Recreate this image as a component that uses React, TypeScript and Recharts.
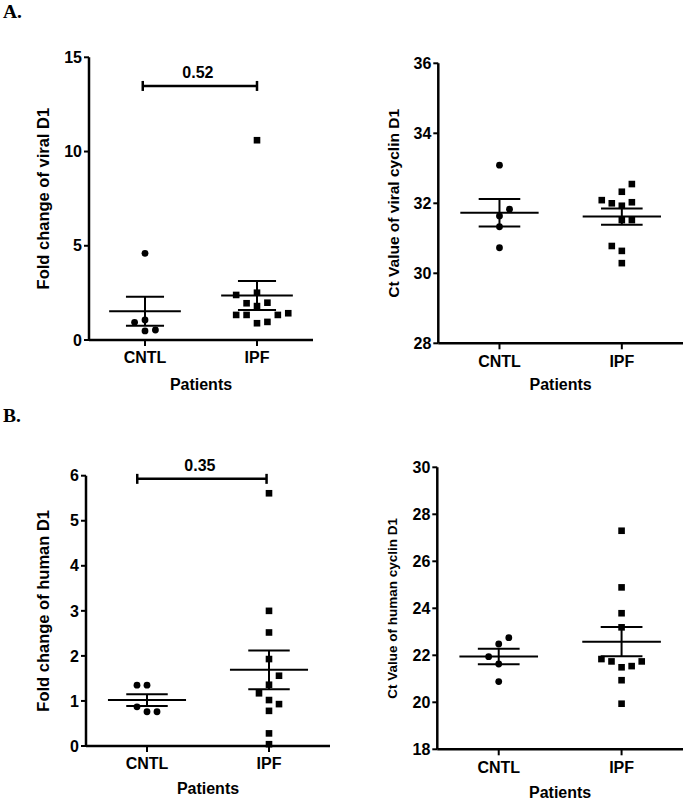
import React from 'react'
import { ScatterChart, Scatter, XAxis, YAxis, ReferenceLine } from 'recharts'

const groups = ['CNTL', 'IPF']

// A. fold change of viral D1
const viralFoldCntl = [4.6, 0.94, 1.06, 0.48, 0.53]
const viralFoldCntlCol = [0, -1, 0, 0, 1]
const viralFoldIpf = [10.6, 2.39, 2.51, 1.95, 1.8, 1.98, 1.33, 1.33, 1.33, 1.42, 0.89, 0.96]
const viralFoldIpfCol = [0, -2, 0, -1, 0, 1, -2, -1, 2, 3, 0, 1]
const viralFoldMean = [1.52, 2.36]
const viralFoldSem = [0.77, 0.77]
const viralFoldTicks = [0, 5, 10, 15]

// A. Ct value of viral cyclin D1
const viralCtCntl = [33.09, 31.83, 31.64, 31.33, 30.73]
const viralCtCntlCol = [0, 1, 0, 0, 0]
const viralCtIpf = [32.55, 32.33, 32.09, 32.0, 31.93, 32.03, 31.52, 31.52, 30.78, 30.64, 30.29]
const viralCtIpfCol = [1, 0, -2, -1, 0, 1, 0, 1, -1, 0, 0]
const viralCtMean = [31.73, 31.62]
const viralCtSem = [0.39, 0.23]
const viralCtTicks = [28, 30, 32, 34, 36]

// B. fold change of human D1
const humanFoldCntl = [1.35, 1.35, 0.87, 0.76, 0.76]
const humanFoldCntlCol = [-1, 0, -1, 0, 1]
const humanFoldIpf = [5.61, 3.0, 2.52, 1.93, 1.56, 1.36, 1.17, 1.02, 0.93, 0.78, 0.28, 0.04]
const humanFoldIpfCol = [0, 0, 0, 0, 1, 0, -1, 0, 1, 0, 0, 0]
const humanFoldMean = [1.02, 1.69]
const humanFoldSem = [0.13, 0.43]
const humanFoldTicks = [0, 1, 2, 3, 4, 5, 6]

// B. Ct value of human cyclin D1
const humanCtCntl = [22.75, 22.48, 21.94, 21.63, 20.88]
const humanCtCntlCol = [1, 0, -1, 0, 0]
const humanCtIpf = [27.3, 24.89, 23.79, 23.19, 21.84, 21.74, 21.74, 21.54, 21.49, 20.94, 19.94]
const humanCtIpfCol = [0, 0, 0, 0, -2, -1, 2, 1, 0, 0, 0]
const humanCtMean = [21.95, 22.58]
const humanCtSem = [0.33, 0.62]
const humanCtTicks = [18, 20, 22, 24, 26, 28, 30]

const FONT = 'Liberation Sans, Arial, Helvetica, sans-serif'
const MEAN_HALF = 0.32
const CAP_HALF = 0.17

const boldText = { fontSize: 16, fontWeight: 'bold', fontFamily: FONT }
const axisLine = { stroke: '#000', strokeWidth: 2.5 }
const tickLine = { stroke: '#000', strokeWidth: 2 }

const panels = [
  {
    left: 0, top: 0, width: 328, height: 395,
    margin: { top: 57.3, left: 43, right: 15, bottom: 25 }, yWidth: 46,
    yLabel: 'Fold change of viral D1', yLabelSize: 16.5, xLabelOffset: 8.5,
    domain: [0, 15], ticks: viralFoldTicks, step: 0.093,
    cntl: viralFoldCntl, cntlCol: viralFoldCntlCol, ipf: viralFoldIpf, ipfCol: viralFoldIpfCol,
    mean: viralFoldMean, sem: viralFoldSem,
    bracket: { from: 0.98, to: 2.0, y: 13.48, text: '0.52' },
  },
  {
    left: 340, top: 0, width: 345, height: 400,
    margin: { top: 63.3, left: 53.3, right: 2, bottom: 26.7 }, yWidth: 45,
    yLabel: 'Ct Value of viral cyclin D1', yLabelSize: 15.5, xLabelOffset: 5.2,
    domain: [28, 36], ticks: viralCtTicks, step: 0.082,
    cntl: viralCtCntl, cntlCol: viralCtCntlCol, ipf: viralCtIpf, ipfCol: viralCtIpfCol,
    mean: viralCtMean, sem: viralCtSem,
  },
  {
    left: 0, top: 400, width: 340, height: 400,
    margin: { top: 75.7, left: 43, right: 10, bottom: 24 }, yWidth: 43,
    yLabel: 'Fold change of human D1', yLabelSize: 16.5, xLabelOffset: 6.3,
    domain: [0, 6], ticks: humanFoldTicks, step: 0.082,
    cntl: humanFoldCntl, cntlCol: humanFoldCntlCol, ipf: humanFoldIpf, ipfCol: humanFoldIpfCol,
    mean: humanFoldMean, sem: humanFoldSem,
    bracket: { from: 0.92, to: 1.98, y: 5.93, text: '0.35' },
  },
  {
    left: 340, top: 400, width: 345, height: 400,
    margin: { top: 67.3, left: 52.5, right: 2, bottom: 20.7 }, yWidth: 44.8,
    yLabel: 'Ct Value of human cyclin D1', yLabelSize: 13.5, xLabelOffset: 7,
    domain: [18, 30], ticks: humanCtTicks, step: 0.082,
    cntl: humanCtCntl, cntlCol: humanCtCntlCol, ipf: humanCtIpf, ipfCol: humanCtIpfCol,
    mean: humanCtMean, sem: humanCtSem,
  },
]

const circle = (props: any) => <circle cx={props.cx} cy={props.cy} r={3.4} fill="#000" />
const square = (props: any) => (
  <rect x={props.cx - 3.3} y={props.cy - 3.3} width={6.6} height={6.6} fill="#000" />
)

const xTick = (props: any) => (
  <text x={props.x} y={props.y} dy="0.71em" textAnchor="middle" fill="#000" style={boldText}>
    {groups[Math.round(props.payload.value) - 1]}
  </text>
)

const yTick = (props: any) => (
  <text x={props.x} y={props.y} dy="0.355em" textAnchor="end" fill="#000" style={boldText}>
    {props.payload.value}
  </text>
)

const makeBracket = (text: string) => (props: any) => {
  const { x1, y1, x2, y2 } = props
  return (
    <g>
      <line x1={x1} y1={y1} x2={x2} y2={y2} stroke="#000" strokeWidth={2.5} />
      <line x1={x1} y1={y1 - 5} x2={x1} y2={y1 + 5} stroke="#000" strokeWidth={2.5} />
      <line x1={x2} y1={y2 - 5} x2={x2} y2={y2 + 5} stroke="#000" strokeWidth={2.5} />
      <text x={(x1 + x2) / 2 - 2} y={y1 - 7.5} textAnchor="middle" fill="#000" style={boldText}>
        {text}
      </text>
    </g>
  )
}

const makeYLabel = (text: string, size: number) => (props: any) => {
  const vb = props.viewBox
  const cx = vb.x
  const cy = vb.y + vb.height / 2
  return (
    <text x={cx} y={cy} dy="0.355em" transform={`rotate(-90, ${cx}, ${cy})`} textAnchor="middle"
      fill="#000" style={{ ...boldText, fontSize: size }}>
      {text}
    </text>
  )
}

const makeXLabel = (off: number) => (props: any) => {
  const vb = props.viewBox
  return (
    <text x={vb.x + vb.width / 2} y={vb.y + vb.height + off} dy="0.71em" textAnchor="middle"
      fill="#000" style={boldText}>
      Patients
    </text>
  )
}

function Panel({ p }: { p: any }) {
  const cntl = p.cntl.map((y: number, i: number) => ({ x: 1 + p.cntlCol[i] * p.step, y }))
  const ipf = p.ipf.map((y: number, i: number) => ({ x: 2 + p.ipfCol[i] * p.step, y }))
  const seg = { stroke: '#000', strokeWidth: 2 }
  return (
    <div style={{ position: 'absolute', left: p.left, top: p.top }}>
      <ScatterChart width={p.width} height={p.height} margin={p.margin}>
        <XAxis
          type="number"
          dataKey="x"
          domain={[0.5, 2.5]}
          ticks={[1, 2]}
          height={30}
          stroke="#000"
          axisLine={axisLine}
          tickLine={tickLine}
          tickSize={6}
          tickMargin={6}
          tick={xTick}
          interval={0}
          label={makeXLabel(p.xLabelOffset)}
        />
        <YAxis
          type="number"
          dataKey="y"
          domain={p.domain}
          ticks={p.ticks}
          width={p.yWidth}
          stroke="#000"
          axisLine={axisLine}
          tickLine={tickLine}
          tickSize={5}
          tickMargin={2}
          tick={yTick}
          interval={0}
          label={makeYLabel(p.yLabel, p.yLabelSize)}
        />
        {groups.map((g, i) => {
          const c = i + 1
          const m = p.mean[i]
          const s = p.sem[i]
          return [
            <ReferenceLine key={g + 'm'} segment={[{ x: c - MEAN_HALF, y: m }, { x: c + MEAN_HALF, y: m }]} {...seg} />,
            <ReferenceLine key={g + 'u'} segment={[{ x: c - CAP_HALF, y: m + s }, { x: c + CAP_HALF, y: m + s }]} {...seg} />,
            <ReferenceLine key={g + 'l'} segment={[{ x: c - CAP_HALF, y: m - s }, { x: c + CAP_HALF, y: m - s }]} {...seg} />,
            <ReferenceLine key={g + 'v'} segment={[{ x: c, y: m - s }, { x: c, y: m + s }]} {...seg} />,
          ]
        })}
        {p.bracket && (
          <ReferenceLine
            segment={[{ x: p.bracket.from, y: p.bracket.y }, { x: p.bracket.to, y: p.bracket.y }]}
            shape={makeBracket(p.bracket.text)}
          />
        )}
        <Scatter data={cntl} shape={circle} isAnimationActive={false} />
        <Scatter data={ipf} shape={square} isAnimationActive={false} />
      </ScatterChart>
    </div>
  )
}

export default function App() {
  return (
    <div style={{ position: 'absolute', left: 0, top: 0, width: 685, height: 800, background: '#fff' }}>
      {panels.map((p, i) => (
        <Panel key={i} p={p} />
      ))}
      <svg width={685} height={800} style={{ position: 'absolute', left: 0, top: 0, pointerEvents: 'none' }}>
        <text x={3} y={17.5} style={{ fontSize: 19.5, fontWeight: 'bold', fontFamily: 'Liberation Serif, Times New Roman, serif' }}>A.</text>
        <text x={3} y={421.7} style={{ fontSize: 19.5, fontWeight: 'bold', fontFamily: 'Liberation Serif, Times New Roman, serif' }}>B.</text>
      </svg>
    </div>
  )
}
